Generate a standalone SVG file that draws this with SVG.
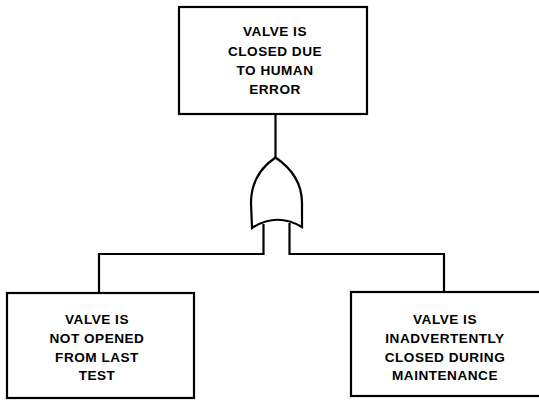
<svg xmlns="http://www.w3.org/2000/svg" width="539" height="400" viewBox="0 0 539 400">
<style>
.box{fill:#fff;stroke:#000;stroke-width:2.2}
.ln{fill:none;stroke:#000;stroke-width:2.2;stroke-linejoin:miter}
.t{font-family:"Liberation Sans",Arial,sans-serif;font-weight:bold;font-size:13.6px;text-anchor:middle;fill:#000;letter-spacing:0.5px}
</style>
<rect width="539" height="400" fill="#fff"/>
<g id="connectors">
<path class="ln" d="M275.5,114 L275.5,158"/>
<path class="ln" d="M263.5,224 L263.5,254 L99,254 L99,293"/>
<path class="ln" d="M289.5,223 L289.5,254 L444,254 L444,292"/>
</g>
<g id="gate-or">
<path class="ln" d="M252,228 L251,203 C251,183 260,168 275.5,157.5 C291,168 302,183 302,203 L302,227 Q276.5,212 252,228 Z"/>
</g>
<g id="top">
<rect class="box" x="179" y="7" width="188" height="107"/>
<text class="t" x="275" y="36">VALVE IS</text>
<text class="t" x="275" y="56">CLOSED DUE</text>
<text class="t" x="275" y="74.5">TO HUMAN</text>
<text class="t" x="275" y="94">ERROR</text>
</g>
<g id="left">
<rect class="box" x="7" y="293" width="187" height="105"/>
<text class="t" x="97" y="324">VALVE IS</text>
<text class="t" x="97" y="343">NOT OPENED</text>
<text class="t" x="97" y="362">FROM LAST</text>
<text class="t" x="97" y="380">TEST</text>
</g>
<g id="right">
<rect class="box" x="351" y="292" width="200" height="104"/>
<text class="t" x="445" y="324">VALVE IS</text>
<text class="t" x="445" y="343">INADVERTENTLY</text>
<text class="t" x="445" y="362">CLOSED DURING</text>
<text class="t" x="445" y="380">MAINTENANCE</text>
</g>
</svg>
